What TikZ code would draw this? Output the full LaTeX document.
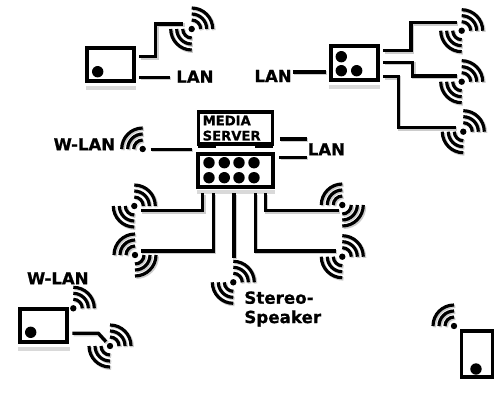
\documentclass[tikz,border=0pt]{standalone}
\usepackage{fontspec}
\setmainfont[BoldFeatures={FakeBold=0.8}]{DejaVu Sans}
\newcommand{\titik}[1]{\foreach \x/\y in {#1} \fill (\x,\y) circle (5.7);}
\newcommand{\speaker}[2]{%
  \fill (#1) circle (3.2);
  \foreach \a in {#2} \foreach \r in {9,15,21}
    \draw[wave] ([shift={(\a-45:\r)}]#1) arc (\a-45:\a+45:\r);}
\tikzset{
  box/.style={draw,line width=2.2pt,inner sep=0pt,outer sep=0pt},
  wire/.style={line width=1.9pt,preaction={draw=black!20,line width=2.2pt,transform canvas={shift={(0.7pt,-0.7pt)}}}},
  wave/.style={line width=1.8pt,preaction={draw=black!20,line width=2pt,transform canvas={shift={(0.7pt,-0.7pt)}}}},
  reflex/.style={draw=black!15,line width=2pt},
  lbl/.style={font=\bfseries\fontsize{9.4}{11}\selectfont,inner sep=0pt,align=left}
}

\begin{document}
\begin{tikzpicture}[x=0.02cm,y=-0.02cm]
  \useasboundingbox (0,0) rectangle (495,400);

  % devices
  \node[box,minimum width=26.8pt,minimum height=19pt] (player) at (110.8,64.7) {};
  \node[box,minimum width=26.8pt,minimum height=19pt] (hub) at (354.3,63) {};
  \node[box,minimum width=42.1pt,minimum height=18.2pt] (server) at (235.5,128.2) {};
  \node[box,minimum width=42.7pt,minimum height=18.6pt] (drive) at (235.8,170.5) {};
  \node[box,minimum width=26.8pt,minimum height=19pt] (mobile) at (43.8,325.5) {};
  \node[box,minimum width=17.6pt,minimum height=26.5pt] (tall) at (477,354) {};

  \draw[reflex] (86,88) -- (136,88);
  \draw[reflex] (329,87) -- (380,87);
  \draw[reflex] (197,192) -- (275,192);
  \draw[reflex] (18,349) -- (70,349);
  \draw[line width=2pt] (198,146.5) -- (216,146.5);
  \draw[line width=2pt] (255,146.5) -- (273,146.5);

  \titik{97.7/71.7}
  \titik{341.3/56.7, 341.3/70.7, 356.7/70.7}
  \titik{209/162.7, 224.3/162.7, 239/162.7, 254/162.7}
  \titik{209/177.7, 224.3/177.7, 239/177.7, 254/177.7}
  \titik{30.7/332.3}
  \titik{476/369}

  % speakers
  \coordinate (S1) at (191.7,29);
  \coordinate (S2) at (461.7,30.7);
  \coordinate (S3) at (461.7,81.7);
  \coordinate (S4) at (463.3,131.7);
  \coordinate (S5) at (134.3,206);
  \coordinate (S6) at (135,255);
  \coordinate (S7) at (342.3,205);
  \coordinate (S8) at (342.3,256.7);
  \coordinate (S9) at (233.3,282.3);
  \coordinate (S10) at (110,346);
  \coordinate (W1) at (142.7,149);
  \coordinate (W2) at (73.3,308.3);
  \coordinate (W3) at (454,326);

  \foreach \s in {S1,S2,S3,S4,S5,S8,S9,S10} {\speaker{\s}{-45,135}}
  \foreach \s in {S6,S7} {\speaker{\s}{-135,45}}
  \speaker{W1}{-135}
  \speaker{W2}{-45}
  \speaker{W3}{-135}

  % labels
  \node[lbl,anchor=west] (lan1) at (176,76.7) {LAN};
  \node[lbl,anchor=east] (lan2) at (292,76) {LAN};
  \node[lbl,anchor=west] (lan3) at (307.5,149.3) {LAN};
  \node[lbl,anchor=west] (wlan1) at (53.3,144.3) {W-LAN};
  \node[lbl,anchor=west] (wlan2) at (26.7,278.3) {W-LAN};
  \node[lbl,anchor=west,font=\bfseries\fontsize{7.5}{8.6}\selectfont] (media) at (202.3,128.2) {MEDIA\\SERVER};
  \node[lbl,anchor=north west,font=\bfseries\fontsize{9.5}{11}\selectfont] (stereo) at (244,291) {Stereo-\\Speaker};

  % cables
  \coordinate (a1) at (139.3,56.7);
  \coordinate (a2) at (183.3,24);
  \coordinate (a3) at (139.3,77.3);
  \coordinate (a4) at (170,77.3);
  \draw[wire] (a1) -| (155.7,24) -- (a2);
  \draw[wire] (a3) -- (a4);

  \coordinate (b1) at (293,72);
  \coordinate (b2) at (326,72);
  \draw[wire] (b1) -- (b2);
  \coordinate (c1) at (383.3,50.7);
  \coordinate (c2) at (456.7,22.7);
  \coordinate (c3) at (383.3,62.3);
  \coordinate (c4) at (457,76);
  \coordinate (c5) at (383.3,76.7);
  \coordinate (c6) at (456,127.7);
  \draw[wire] (c1) -| (411,22.7) -- (c2);
  \draw[wire] (c3) -| (412.7,76) -- (c4);
  \draw[wire] (c5) -| (398.3,127.7) -- (c6);

  \coordinate (d1) at (150.7,149.3);
  \coordinate (d2) at (191.7,149.3);
  \coordinate (d3) at (280,139);
  \coordinate (d4) at (306.7,139);
  \coordinate (d5) at (279.3,157.3);
  \coordinate (d6) at (306.7,157.3);
  \draw[wire] (d1) -- (d2);
  \draw[wire] (d3) -- (d4);
  \draw[wire] (d5) -- (d6);

  \coordinate (e1) at (202.7,193.3);
  \coordinate (e2) at (140.7,210.7);
  \coordinate (e3) at (213.3,193.3);
  \coordinate (e4) at (140.7,251);
  \coordinate (e5) at (234,193.3);
  \coordinate (e6) at (234,257.7);
  \coordinate (e7) at (255.3,193.3);
  \coordinate (e8) at (336,251);
  \coordinate (e9) at (265.3,193.3);
  \coordinate (e10) at (338.7,210.7);
  \draw[wire] (e1) |- (e2);
  \draw[wire] (e3) |- (e4);
  \draw[wire] (e5) -- (e6);
  \draw[wire] (e7) |- (e8);
  \draw[wire] (e9) |- (e10);

  \coordinate (f1) at (72.3,333.3);
  \coordinate (f2) at (106,341.7);
  \draw[wire] (f1) -- (98.3,333.3) -- (f2);
\end{tikzpicture}
\end{document}
